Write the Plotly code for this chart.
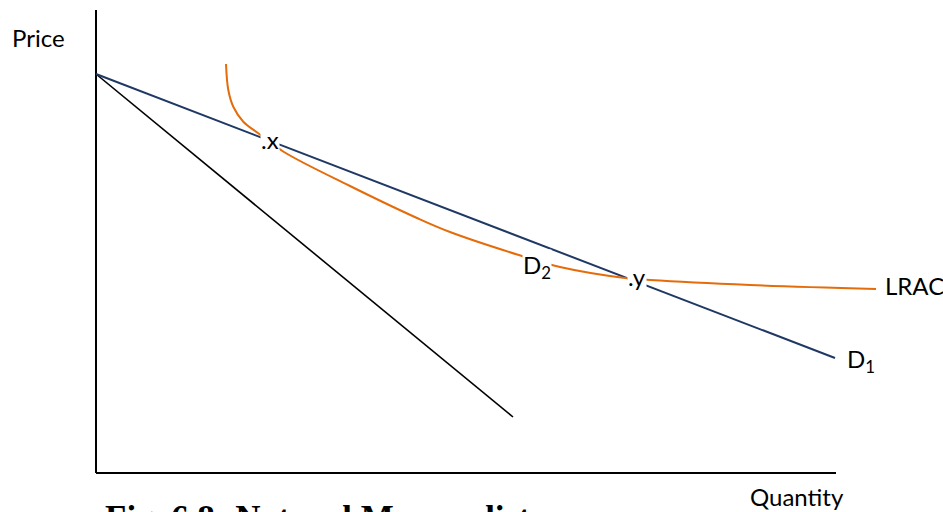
import plotly.graph_objects as go

# axes lengths (origin at the corner of the axes)
axis_x_end = 740
axis_y_end = 463

# demand curve D1
d1_q = [0, 739]
d1_p = [399, 115]

# steeper black line (marginal revenue)
mr_q = [0, 417]
mr_p = [399, 56]

# LRAC curve
lrac_q = [130, 132.3, 137.3, 147.3, 162.3, 188, 254, 321, 354, 426, 464, 529, 554, 654, 780]
lrac_p = [409, 383, 366.3, 351.3, 339.7, 321, 287, 255, 241, 217, 206, 195, 193, 188, 184]

NAVY = '#1f3864'
ORANGE = '#e46c0a'
LABEL_FONT = 'Lato'

fig = go.Figure()

fig.add_trace(go.Scatter(x=[0, 0], y=[0, axis_y_end], mode='lines',
                         line=dict(color='black', width=2), hoverinfo='skip'))
fig.add_trace(go.Scatter(x=[0, axis_x_end], y=[0, 0], mode='lines',
                         line=dict(color='black', width=2), hoverinfo='skip'))
fig.add_trace(go.Scatter(x=mr_q, y=mr_p, mode='lines',
                         line=dict(color='black', width=1.6)))
fig.add_trace(go.Scatter(x=d1_q, y=d1_p, mode='lines',
                         line=dict(color=NAVY, width=2)))
fig.add_trace(go.Scatter(x=lrac_q, y=lrac_p, mode='lines',
                         line=dict(color=ORANGE, width=2, shape='spline', smoothing=1)))


def label(text, x, y, xanchor='center', size=24, bg=True):
    fig.add_annotation(x=x, y=y, text=text, showarrow=False, xanchor=xanchor,
                       yanchor='middle', font=dict(family=LABEL_FONT, size=size, color='black'),
                       bgcolor='white' if bg else None, borderpad=0)


label('.x', 174, 334)
label('.y', 541, 197)
label('D<sub>2</sub>', 441, 207)
label('LRAC', 788, 188, xanchor='left')
label('D<sub>1</sub>', 750, 113, xanchor='left')
label('Price', -58, 435.5, bg=False)
label('Quantity', 700.5, -23, bg=False)

fig.add_annotation(x=7, y=-24, text='<b>Fig. 6.8: Natural Monopolist</b>', showarrow=False,
                   xanchor='left', yanchor='top',
                   font=dict(family='Liberation Serif', size=35, color='black'))

fig.update_layout(
    width=943, height=512,
    margin=dict(l=0, r=0, t=0, b=0, autoexpand=False),
    plot_bgcolor='white', paper_bgcolor='white',
    showlegend=False,
    xaxis=dict(range=[-96, 847], visible=False, fixedrange=True),
    yaxis=dict(range=[-39, 473], visible=False, fixedrange=True),
)

# drop the default page margin so the figure sits at the window corner
fig.write_html('out.html', config={'displayModeBar': False},
               post_script="document.body.style.margin='0';")
